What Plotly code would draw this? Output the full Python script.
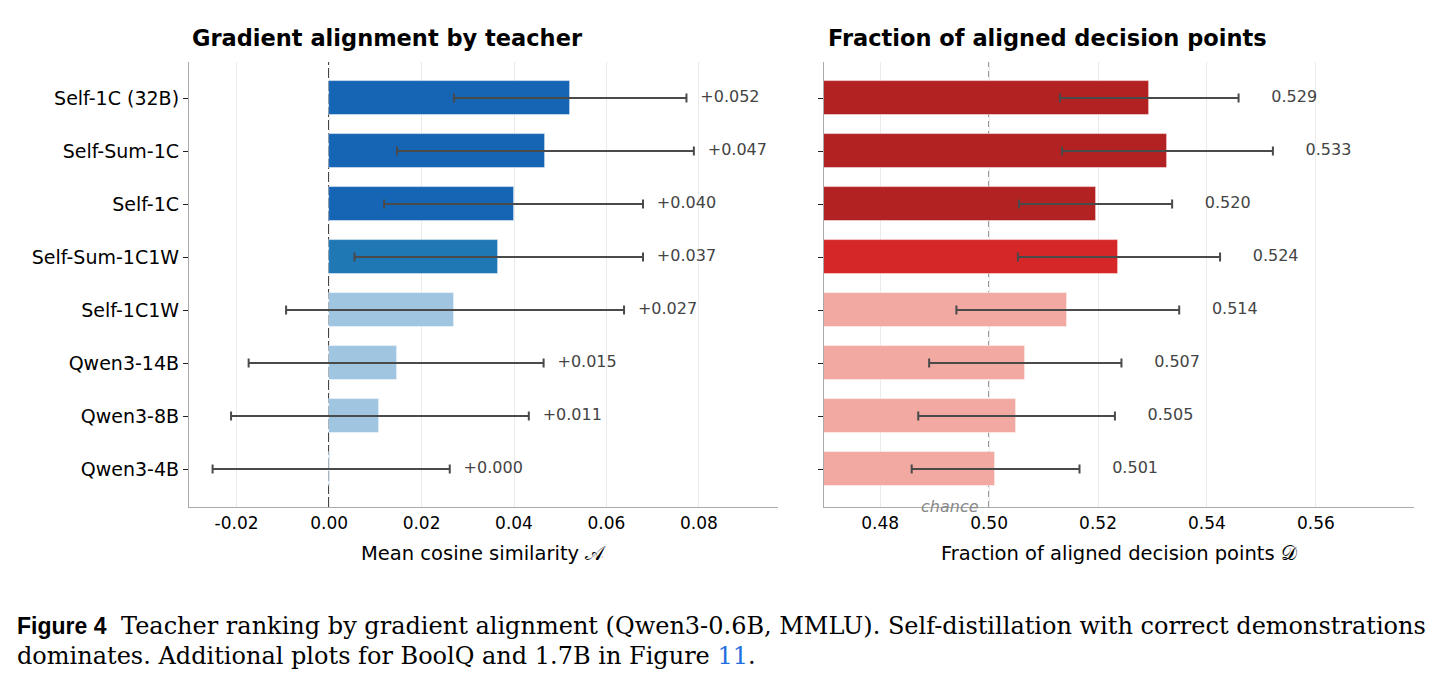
import plotly.graph_objects as go

# ---------------- data ----------------
teachers = ["Self-1C (32B)", "Self-Sum-1C", "Self-1C", "Self-Sum-1C1W",
            "Self-1C1W", "Qwen3-14B", "Qwen3-8B", "Qwen3-4B"]

# Gradient alignment (mean cosine similarity) with CI bounds
align_mean = [0.0521, 0.0468, 0.0399, 0.0366, 0.0271, 0.0146, 0.0109, 0.0003]
align_lo = [0.0270, 0.0147, 0.0119, 0.0055, -0.0093, -0.0174, -0.0212, -0.0252]
align_hi = [0.0773, 0.0789, 0.0679, 0.0679, 0.0638, 0.0464, 0.0432, 0.0261]

# Fraction of aligned decision points with CI bounds
frac_mean = [0.5293, 0.5326, 0.5196, 0.5237, 0.5143, 0.5066, 0.5050, 0.5011]
frac_lo = [0.5130, 0.5134, 0.5055, 0.5053, 0.4940, 0.4890, 0.4870, 0.4858]
frac_hi = [0.5458, 0.5521, 0.5336, 0.5424, 0.5349, 0.5243, 0.5231, 0.5166]

blue_colors = ["#1565b4", "#1565b4", "#1565b4", "#1f77b4",
               "#9fc5e1", "#9fc5e1", "#9fc5e1", "#9fc5e1"]
red_colors = ["#b22222", "#b22222", "#b22222", "#d62728",
              "#f1a9a1", "#f1a9a1", "#f1a9a1", "#f1a9a1"]

left_ticks = [-0.02, 0.0, 0.02, 0.04, 0.06, 0.08]
left_ticktext = ["-0.02", "0.00", "0.02", "0.04", "0.06", "0.08"]
right_ticks = [0.48, 0.50, 0.52, 0.54, 0.56]
right_ticktext = ["0.48", "0.50", "0.52", "0.54", "0.56"]

# ---------------- figure ----------------
W, H = 1442, 688
FONT = "DejaVu Sans, Noto Sans, sans-serif"
SERIF = "DejaVu Serif, Liberation Serif, serif"
ypos = list(range(len(teachers)))

fig = go.Figure()

err_style = dict(color="#4a4a4a", thickness=2, width=4.5)

fig.add_trace(go.Bar(
    x=align_mean, y=ypos, orientation="h", width=0.65,
    marker=dict(color=blue_colors, line=dict(color="rgba(255,255,255,0.6)", width=0.8)),
    error_x=dict(type="data", symmetric=False,
                 array=[h - m for h, m in zip(align_hi, align_mean)],
                 arrayminus=[m - l for m, l in zip(align_mean, align_lo)],
                 **err_style),
    xaxis="x", yaxis="y", showlegend=False, hoverinfo="skip",
))
fig.add_trace(go.Bar(
    x=frac_mean, y=ypos, orientation="h", width=0.65,
    marker=dict(color=red_colors, line=dict(color="rgba(255,255,255,0.6)", width=0.8)),
    error_x=dict(type="data", symmetric=False,
                 array=[h - m for h, m in zip(frac_hi, frac_mean)],
                 arrayminus=[m - l for m, l in zip(frac_mean, frac_lo)],
                 **err_style),
    xaxis="x2", yaxis="y2", showlegend=False, hoverinfo="skip",
))

# value labels
fig.add_trace(go.Scatter(
    x=[h + 0.003 for h in align_hi], y=ypos, mode="text",
    text=["+{:.3f}".format(v) for v in align_mean], textposition="middle right",
    textfont=dict(family=FONT, size=16, color="#444444"),
    xaxis="x", yaxis="y", showlegend=False, hoverinfo="skip", cliponaxis=False,
))
fig.add_trace(go.Scatter(
    x=[h + 0.006 for h in frac_hi], y=ypos, mode="text",
    text=["{:.3f}".format(v) for v in frac_mean], textposition="middle right",
    textfont=dict(family=FONT, size=16, color="#444444"),
    xaxis="x2", yaxis="y2", showlegend=False, hoverinfo="skip", cliponaxis=False,
))

x1d = [189 / W, 778 / W]
x2d = [824 / W, 1414 / W]
yd = [1 - 507 / H, 1 - 62 / H]
yrange = [7 + 38 / 53, -36 / 53]

axis_common = dict(showline=True, linecolor="#aaaaaa", linewidth=1.3, mirror=False,
                   zeroline=False)

fig.update_layout(
    width=W, height=H, margin=dict(l=0, r=0, t=0, b=0),
    paper_bgcolor="white", plot_bgcolor="white",
    font=dict(family=FONT, color="black"),
    bargap=0,
    xaxis=dict(domain=x1d, range=[-0.0303, 0.0971], tickvals=left_ticks,
               ticktext=left_ticktext, showgrid=True, gridcolor="#ebebeb", gridwidth=1,
               ticks="", tickfont=dict(size=17, family=FONT), anchor="y", **axis_common),
    yaxis=dict(domain=yd, range=yrange, tickvals=ypos, ticktext=teachers,
               showgrid=False, ticks="outside", ticklen=5, tickcolor="#222222",
               tickwidth=1.2, tickfont=dict(size=19, family=FONT), anchor="x",
               **axis_common),
    xaxis2=dict(domain=x2d, range=[0.4697, 0.578], tickvals=right_ticks,
                ticktext=right_ticktext, showgrid=True, gridcolor="#ebebeb", gridwidth=1,
                ticks="", tickfont=dict(size=17, family=FONT), anchor="y2", **axis_common),
    yaxis2=dict(domain=yd, range=yrange, tickvals=ypos, showticklabels=False,
                showgrid=False, ticks="outside", ticklen=5, tickcolor="#222222",
                tickwidth=1.2, anchor="x2", **axis_common),
)

# reference lines
fig.add_shape(type="line", xref="x", yref="y", x0=0, x1=0, y0=yrange[0], y1=yrange[1],
              line=dict(color="#000000", width=1.6, dash="10px,3px"), layer="below")
fig.add_shape(type="line", xref="x2", yref="y2", x0=0.5, x1=0.5, y0=yrange[0], y1=yrange[1],
              line=dict(color="#6e6e6e", width=1.5, dash="6px,4px"), layer="below")

annotations = [
    dict(text="<b>Gradient alignment by teacher</b>", x=190 / W, y=1 - 38 / H,
         xref="paper", yref="paper", xanchor="left", yanchor="middle", showarrow=False,
         font=dict(family=FONT, size=22.5, color="black")),
    dict(text="<b>Fraction of aligned decision points</b>", x=826 / W, y=1 - 38 / H,
         xref="paper", yref="paper", xanchor="left", yanchor="middle", showarrow=False,
         font=dict(family=FONT, size=22.5, color="black")),
    dict(text="Mean cosine similarity 𝒜", x=(189 + 778) / 2 / W, y=1 - 553 / H,
         xref="paper", yref="paper", xanchor="center", yanchor="middle", showarrow=False,
         font=dict(family=FONT, size=19.5, color="black")),
    dict(text="Fraction of aligned decision points 𝒟", x=(824 + 1414) / 2 / W, y=1 - 553 / H,
         xref="paper", yref="paper", xanchor="center", yanchor="middle", showarrow=False,
         font=dict(family=FONT, size=19.5, color="black")),
    dict(text="<i>chance</i>", x=0.4985, y=1 - 506 / H, xref="x2", yref="paper",
         xanchor="right", yanchor="middle", showarrow=False,
         font=dict(family=FONT, size=16, color="#888888")),
    dict(text="<b>Figure 4</b>", x=15 / W, y=1 - 626 / H, xref="paper", yref="paper",
         xanchor="left", yanchor="middle", showarrow=False,
         font=dict(family="Liberation Sans Narrow, Liberation Sans, sans-serif", size=23,
                   color="black")),
    dict(text="Teacher ranking by gradient alignment (Qwen3-0.6B, MMLU). Self-distillation with correct demonstrations",
         x=119 / W, y=1 - 626 / H, xref="paper", yref="paper",
         xanchor="left", yanchor="middle", showarrow=False,
         font=dict(family=SERIF, size=24, color="black")),
    dict(text="dominates. Additional plots for BoolQ and 1.7B in Figure <span style=\"color:#1f6fe0\">11</span>.",
         x=15 / W, y=1 - 656 / H, xref="paper", yref="paper",
         xanchor="left", yanchor="middle", showarrow=False,
         font=dict(family=SERIF, size=24, color="black")),
]
fig.update_layout(annotations=annotations)

fig.write_html("out.html")
